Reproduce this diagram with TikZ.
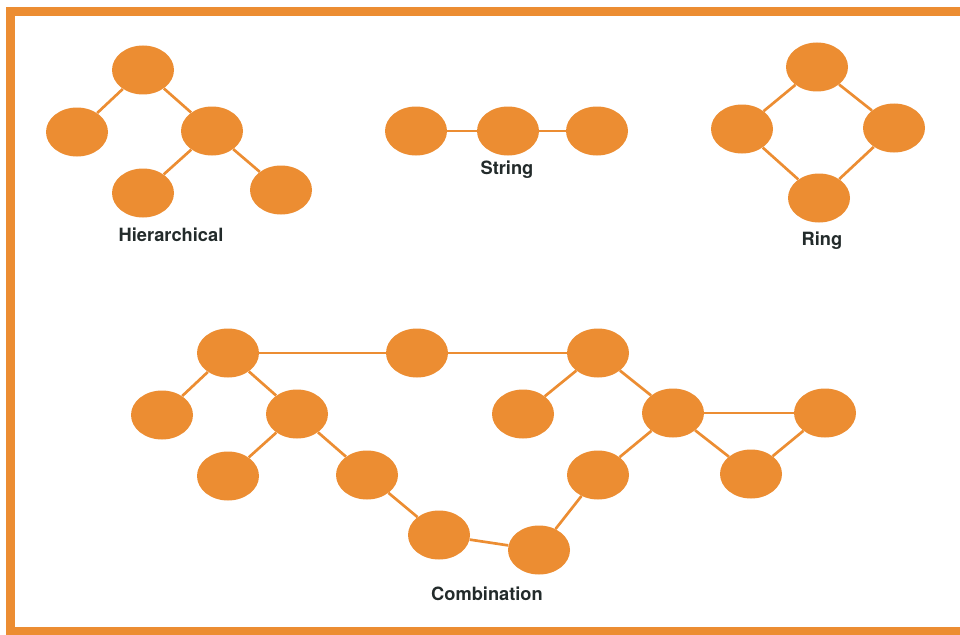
\documentclass[tikz,border=0pt]{standalone}
\usepackage{fontspec}
\setmainfont{TeX Gyre Heros}
\usetikzlibrary{shapes.geometric}
\definecolor{netorange}{RGB}{236,141,50}
\definecolor{labelink}{RGB}{35,43,43}

\begin{document}
\begin{tikzpicture}[x=0.75pt, y=-0.75pt,
    station/.style ={ellipse, fill=netorange, inner sep=0pt, minimum width=46.5pt, minimum height=36.75pt},
    title/.style ={text=labelink, font=\bfseries\fontsize{13.7}{16}\selectfont},
    link/.style ={draw=netorange, line width=2pt}]
   \useasboundingbox (0,0) rectangle (960,635);
   \fill[white] (0,0) rectangle (960,635);
   \draw[netorange, line width=6.75pt] (960,11.5) -- (10.5,11.5) -- (10.5,631.5) -- (960,631.5);
   % Hierarchical
   \node[station] (H1) at (143,70)  {};
   \node[station] (H2) at (77,132)  {};
   \node[station] (H3) at (212,131) {};
   \node[station] (H4) at (143,193) {};
   \node[station] (H5) at (281,190) {};
   \node[title] (Htext) at (171,235) {Hierarchical};
   \draw[link] (H1) to (H2);
   \draw[link] (H1) to (H3);
   \draw[link] (H3) to (H4);
   \draw[link] (H3) to (H5);
   % String
   \node[station] (S1) at (416,131) {};
   \node[station] (S2) at (508,131) {};
   \node[station] (S3) at (597,131) {};
   \node[title] (Stext) at (507,170) {String};
   \draw[link] (S1) to (S2);
   \draw[link] (S2) to (S3);
   % Ring
   \node[station] (R1) at (817,67)  {};
   \node[station] (R2) at (742,129) {};
   \node[station] (R3) at (894,128) {};
   \node[station] (R4) at (819,198) {};
   \node[title] (Rtext) at (822,241) {Ring};
   \draw[link] (R1) to (R2);
   \draw[link] (R1) to (R3);
   \draw[link] (R2) to (R4);
   \draw[link] (R3) to (R4);
   % Combination
   \node[station] (C1)  at (228,353) {};
   \node[station] (C2)  at (417,353) {};
   \node[station] (C3)  at (162,415) {};
   \node[station] (C4)  at (297,414) {};
   \node[station] (C5)  at (228,476) {};
   \node[station] (C6)  at (367,475) {};
   \node[station] (C7)  at (439,535) {};
   \node[station] (C8)  at (598,353) {};
   \node[station] (C9)  at (523,414) {};
   \node[station] (C10) at (673,413) {};
   \node[station] (C11) at (825,413) {};
   \node[station] (C12) at (751,474) {};
   \node[station] (C13) at (598,475) {};
   \node[station] (C14) at (539,550) {};
   \node[title] (Ctext) at (487,594) {Combination};
   \draw[link] (C1) to (C2);
   \draw[link] (C2) to (C8);
   \draw[link] (C1) to (C3);
   \draw[link] (C1) to (C4);
   \draw[link] (C4) to (C5);
   \draw[link] (C4) to (C6);
   \draw[link] (C6) to (C7);
   \draw[link] (C7) to (C14);
   \draw[link] (C14) to (C13);
   \draw[link] (C13) to (C10);
   \draw[link] (C8) to (C9);
   \draw[link] (C8) to (C10);
   \draw[link] (C10) to (C11);
   \draw[link] (C10) to (C12);
   \draw[link] (C12) to (C11);
\end{tikzpicture}
\end{document}
